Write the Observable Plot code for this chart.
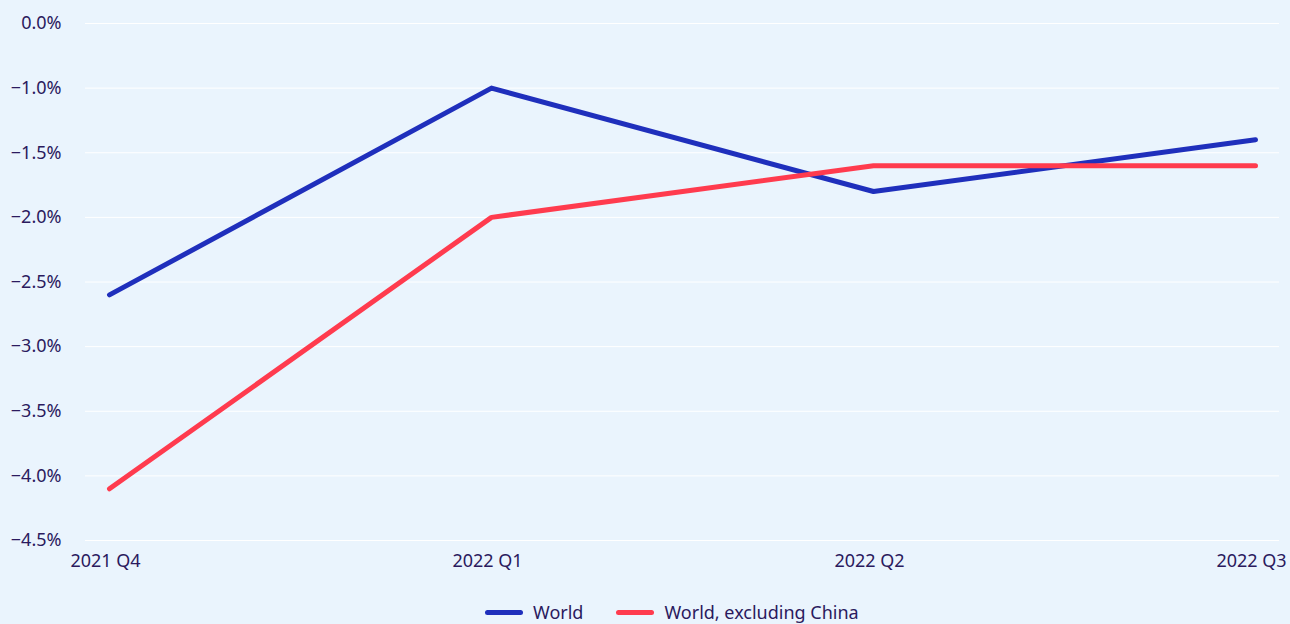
<!DOCTYPE html>
<html><head><meta charset="utf-8">
<script src="https://cdn.jsdelivr.net/npm/d3@7"></script>
<script src="https://cdn.jsdelivr.net/npm/@observablehq/plot@0.6"></script>
<style>
html,body{margin:0;padding:0;background:#EAF4FD;}
body{width:1290px;height:624px;overflow:hidden;font-family:"Noto Sans",sans-serif;color:#2B1A5E;}
#legend{display:flex;justify-content:flex-start;align-items:center;font-size:18px;margin-top:21px;padding-left:485px;line-height:22px;}
.item{display:flex;align-items:center;margin-right:33px;}
.sw{width:38px;height:5px;border-radius:3px;margin-right:10px;}
</style></head>
<body>
<div id="chart"></div>
<div id="legend"></div>
<script>
const quarters = ["2021 Q4", "2022 Q1", "2022 Q2", "2022 Q3"];
const seriesNames = ["World", "World, excluding China"];
const worldValues = [-2.6, -1.0, -1.8, -1.4];
const worldExChinaValues = [-4.1, -2.0, -1.6, -1.6];
const yTicks = [-0.5, -1, -1.5, -2, -2.5, -3, -3.5, -4, -4.5];
const yTickLabels = ["0.0%", "−1.0%", "−1.5%", "−2.0%", "−2.5%", "−3.0%", "−3.5%", "−4.0%", "−4.5%"];
const colors = ["#1F2FBC", "#FF3B4E"];

const data = [];
quarters.forEach((q, i) => {
  data.push({quarter: q, value: worldValues[i], series: seriesNames[0]});
  data.push({quarter: q, value: worldExChinaValues[i], series: seriesNames[1]});
});

const tickLabel = d => yTickLabels[yTicks.indexOf(d)];

const chart = Plot.plot({
  width: 1290,
  height: 580,
  marginLeft: 85,
  marginRight: 11,
  marginTop: 23,
  marginBottom: 40,
  style: {background: "transparent", fontFamily: "Noto Sans, sans-serif", fontSize: "18px", color: "#2B1A5E"},
  x: {type: "point", domain: quarters, padding: 0.06, label: null},
  y: {domain: [-4.5, -0.5], ticks: yTicks, label: null},
  color: {domain: seriesNames, range: colors},
  marks: [
    Plot.gridY(yTicks, {stroke: "#ffffff", strokeOpacity: 1, strokeWidth: 1}),
    Plot.axisY(yTicks, {tickSize: 0, tickPadding: 24, tickFormat: tickLabel, fill: "#2B1A5E", fontSize: 18, label: null}),
    Plot.axisX({tickSize: 0, tickPadding: 14, dx: -4, fill: "#2B1A5E", fontSize: 18, label: null}),
    Plot.line(data, {x: "quarter", y: "value", z: "series", stroke: "series", strokeWidth: 5, strokeLinecap: "round", strokeLinejoin: "round"})
  ]
});
document.getElementById("chart").appendChild(chart);

const legend = document.getElementById("legend");
seriesNames.forEach((n, i) => {
  const it = document.createElement("div");
  it.className = "item";
  const sw = document.createElement("div");
  sw.className = "sw";
  sw.style.background = colors[i];
  const t = document.createElement("span");
  t.textContent = n;
  it.appendChild(sw); it.appendChild(t);
  legend.appendChild(it);
});
</script>
</body></html>
